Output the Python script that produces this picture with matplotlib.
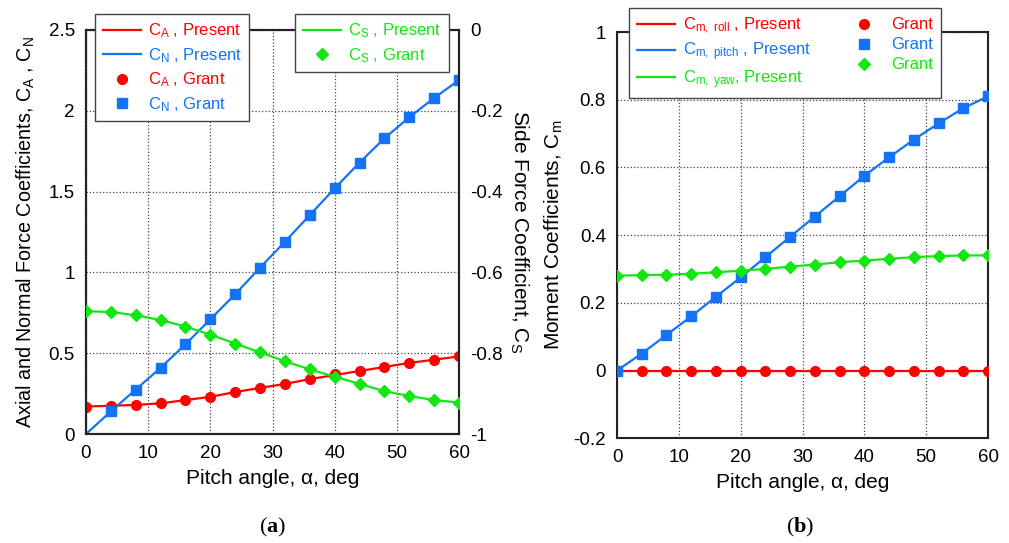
import numpy as np
import matplotlib as mpl
mpl.use('Agg')
import matplotlib.pyplot as plt
from matplotlib.lines import Line2D

plt.rcParams['font.family'] = ['Liberation Sans', 'DejaVu Sans']
plt.rcParams['mathtext.fontset'] = 'custom'
plt.rcParams['mathtext.rm'] = 'Liberation Sans'
plt.rcParams['mathtext.it'] = 'Liberation Sans'
plt.rcParams['mathtext.sf'] = 'Liberation Sans'
plt.rcParams['mathtext.bf'] = 'Liberation Serif:bold'

# pitch angle (deg)
alpha = [0, 4, 8, 12, 16, 20, 24, 28, 32, 36, 40, 44, 48, 52, 56, 60]

# (a) force coefficients
ca_present = [0.17, 0.175, 0.18, 0.19, 0.21, 0.23, 0.26, 0.285, 0.31, 0.34, 0.365, 0.39, 0.415, 0.44, 0.46, 0.48]
ca_grant = [0.17, 0.175, 0.18, 0.19, 0.21, 0.23, 0.26, 0.285, 0.31, 0.34, 0.37, 0.39, 0.415, 0.44, 0.46, 0.48]
cn_present = [0.0, 0.14, 0.275, 0.41, 0.555, 0.71, 0.865, 1.03, 1.19, 1.355, 1.52, 1.68, 1.83, 1.96, 2.08, 2.19]
cn_grant_alpha = [4, 8, 12, 16, 20, 24, 28, 32, 36, 40, 44, 48, 52, 56, 60]
cn_grant = [0.14, 0.275, 0.41, 0.555, 0.71, 0.865, 1.03, 1.19, 1.355, 1.52, 1.68, 1.83, 1.96, 2.08, 2.19]
cs_present = [-0.696, -0.698, -0.706, -0.718, -0.734, -0.754, -0.776, -0.798, -0.82, -0.84, -0.858, -0.876, -0.894, -0.906, -0.916, -0.922]
cs_grant = [-0.696, -0.698, -0.706, -0.718, -0.734, -0.754, -0.776, -0.798, -0.82, -0.84, -0.858, -0.876, -0.894, -0.906, -0.916, -0.922]

# (b) moment coefficients
cm_roll = [0.0] * 16
cm_pitch = [0.0, 0.05, 0.105, 0.16, 0.218, 0.275, 0.335, 0.395, 0.455, 0.515, 0.575, 0.63, 0.682, 0.73, 0.775, 0.81]
cm_yaw = [0.28, 0.282, 0.283, 0.286, 0.29, 0.295, 0.3, 0.307, 0.313, 0.32, 0.325, 0.33, 0.335, 0.338, 0.34, 0.34]

red = '#ff0000'
blue = '#1473f5'
green = '#14e614'
lw = 1.6
ms = 7
fs = 13.5      # tick labels
lfs = 12       # legend text
afs = 15       # axis labels

fig = plt.figure(figsize=(10.09, 5.43), dpi=100)
ax1 = fig.add_axes([0.0852, 0.2007, 0.3698, 0.7441])
ax3 = fig.add_axes([0.6115, 0.193, 0.3677, 0.748])


def style(ax):
    ax.grid(True, color='#444444', linestyle=':', linewidth=0.9)
    ax.set_axisbelow(True)
    for s in ax.spines.values():
        s.set_linewidth(1.5)
        s.set_color('#222222')
    ax.tick_params(length=0, pad=8, labelsize=fs)


# ---- (a)
ax1.plot(alpha, ca_present, color=red, lw=lw, zorder=3)
ax1.plot(alpha, cn_present, color=blue, lw=lw, zorder=3)
ax1.plot(alpha, ca_grant, 'o', color=red, ms=ms, zorder=4)
ax1.plot(cn_grant_alpha, cn_grant, 's', color=blue, ms=ms, zorder=4)
ax1.set_xlim(0, 60)
ax1.set_ylim(0, 2.5)
ax1.set_xticks([0, 10, 20, 30, 40, 50, 60])
ax1.set_yticks([0, 0.5, 1, 1.5, 2, 2.5])
ax1.set_yticklabels(['0', '0.5', '1', '1.5', '2', '2.5'])
style(ax1)
ax1.set_xlabel('Pitch angle, α, deg', fontsize=afs, labelpad=5)
ax1.set_ylabel('Axial and Normal Force Coefficients, $\\mathrm{C_A}$ , $\\mathrm{C_N}$', fontsize=14.2, labelpad=8)

ax2 = ax1.twinx()
ax2.plot(alpha, cs_present, color=green, lw=lw, zorder=3)
ax2.plot(alpha, cs_grant, 'D', color=green, ms=6, zorder=4)
ax2.set_ylim(-1, 0)
ax2.set_yticks([-1, -0.8, -0.6, -0.4, -0.2, 0])
ax2.set_yticklabels(['-1', '-0.8', '-0.6', '-0.4', '-0.2', '0'])
ax2.tick_params(length=0, pad=8, labelsize=fs)
for s in ax2.spines.values():
    s.set_linewidth(1.5)
    s.set_color('#222222')
ax2.set_ylabel('Side Force Coefficient, $\\mathrm{C_S}$', fontsize=afs, rotation=270, labelpad=20)

h1 = [Line2D([], [], color=red, lw=lw), Line2D([], [], color=blue, lw=lw),
      Line2D([], [], color=red, marker='o', ls='none', ms=ms),
      Line2D([], [], color=blue, marker='s', ls='none', ms=ms)]
l1 = ['$\\mathrm{C_A}$ , Present', '$\\mathrm{C_N}$ , Present',
      '$\\mathrm{C_A}$ , Grant', '$\\mathrm{C_N}$ , Grant']
leg1 = ax2.legend(h1, l1, loc='upper left', bbox_to_anchor=(0.003, 1.06), fontsize=lfs,
                  labelcolor=[red, blue, red, blue], fancybox=False, framealpha=1,
                  edgecolor='#444444', handlelength=2.3, handletextpad=0.4,
                  labelspacing=0.35, borderpad=0.45)
leg1.get_frame().set_linewidth(1.0)
ax2.add_artist(leg1)

h2 = [Line2D([], [], color=green, lw=lw), Line2D([], [], color=green, marker='D', ls='none', ms=6)]
l2 = ['$\\mathrm{C_S}$ , Present', '$\\mathrm{C_S}$ , Grant']
leg2 = ax2.legend(h2, l2, loc='upper right', bbox_to_anchor=(0.995, 1.06), fontsize=lfs,
                  labelcolor=[green, green], fancybox=False, framealpha=1,
                  edgecolor='#444444', handlelength=2.3, handletextpad=0.4,
                  labelspacing=0.35, borderpad=0.45)
leg2.get_frame().set_linewidth(1.0)

# ---- (b)
ax3.plot(alpha, cm_roll, color=red, lw=lw, zorder=3)
ax3.plot(alpha, cm_pitch, color=blue, lw=lw, zorder=3)
ax3.plot(alpha, cm_yaw, color=green, lw=lw, zorder=3)
ax3.plot(alpha, cm_roll, 'o', color=red, ms=ms, zorder=4)
ax3.plot(alpha, cm_pitch, 's', color=blue, ms=ms, zorder=4)
ax3.plot(alpha, cm_yaw, 'D', color=green, ms=6, zorder=4)
ax3.set_xlim(0, 60)
ax3.set_ylim(-0.2, 1)
ax3.set_xticks([0, 10, 20, 30, 40, 50, 60])
ax3.set_yticks([-0.2, 0, 0.2, 0.4, 0.6, 0.8, 1])
ax3.set_yticklabels(['-0.2', '0', '0.2', '0.4', '0.6', '0.8', '1'])
style(ax3)
ax3.set_xlabel('Pitch angle, α, deg', fontsize=afs, labelpad=5)
ax3.set_ylabel('Moment Coefficients, $\\mathrm{C_m}$', fontsize=afs, labelpad=6)

h3 = [Line2D([], [], color=red, lw=lw), Line2D([], [], color=blue, lw=lw),
      Line2D([], [], color=green, lw=lw),
      Line2D([], [], color=red, marker='o', ls='none', ms=ms),
      Line2D([], [], color=blue, marker='s', ls='none', ms=ms),
      Line2D([], [], color=green, marker='D', ls='none', ms=6)]
l3 = ['$\\mathrm{C_{m,\\ roll}}$ , Present', '$\\mathrm{C_{m,\\ pitch}}$ , Present',
      '$\\mathrm{C_{m,\\ yaw}}$, Present', 'Grant', 'Grant', 'Grant']
leg3 = ax3.legend(h3, l3, ncol=2, loc='upper left', bbox_to_anchor=(0.01, 1.08), fontsize=lfs,
                  labelcolor=[red, blue, green, red, blue, green], fancybox=False, framealpha=1,
                  edgecolor='#444444', handlelength=2.3, handletextpad=0.5,
                  labelspacing=0.3, borderpad=0.45, columnspacing=2.0)
leg3.get_frame().set_linewidth(1.0)

fig.text(0.2705, 0.028, '($\\mathbf{a}$)', fontsize=16, family='Liberation Serif', ha='center', va='center')
fig.text(0.7935, 0.028, '($\\mathbf{b}$)', fontsize=16, family='Liberation Serif', ha='center', va='center')

plt.savefig('out.png', dpi=100)
